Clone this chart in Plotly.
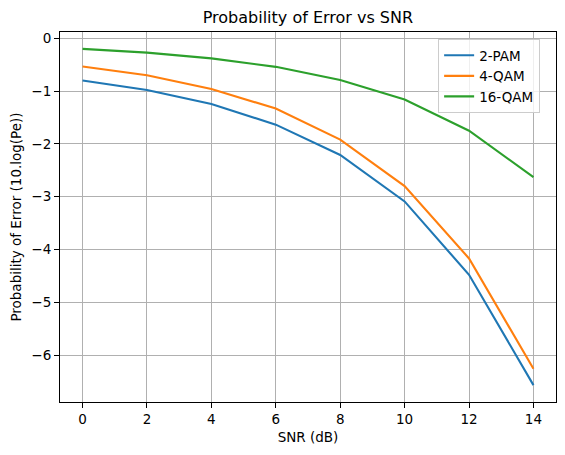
import plotly.graph_objects as go

# SNR values (dB) and error curves
snr_db = [0, 2, 4, 6, 8, 10, 12, 14]
pam2 = [-0.80, -0.98, -1.245, -1.635, -2.21, -3.09, -4.48, -6.57]
qam4 = [-0.535, -0.70, -0.96, -1.33, -1.92, -2.80, -4.17, -6.26]
qam16 = [-0.20, -0.27, -0.38, -0.54, -0.79, -1.16, -1.75, -2.63]

series = [("2-PAM", pam2, "#1f77b4"), ("4-QAM", qam4, "#ff7f0e"), ("16-QAM", qam16, "#2ca02c")]

fig = go.Figure()
for name, vals, color in series:
    fig.add_trace(go.Scatter(x=snr_db, y=vals, name=name, mode="lines",
                             line=dict(color=color, width=2.1)))

axis_style = dict(
    showline=True, linecolor="black", linewidth=1.1, mirror=True,
    showgrid=True, gridcolor="#b0b0b0", gridwidth=1.1,
    ticks="outside", ticklen=5, tickwidth=1.1, tickcolor="black",
    zeroline=False, automargin=False, tickfont=dict(size=13.5, color="black"),
)

fig.update_layout(
    width=565, height=455,
    margin=dict(l=60, r=9, t=32, b=53),
    paper_bgcolor="white", plot_bgcolor="white",
    font=dict(family="DejaVu Sans", color="black"),
    title=dict(text="Probability of Error vs SNR", x=0.545, xanchor="center",
               y=1 - 17 / 455, yanchor="middle", font=dict(size=16)),
    legend=dict(x=0.968, xanchor="right", y=0.981, yanchor="top",
                bgcolor="rgba(255,255,255,0.8)", bordercolor="#cccccc", borderwidth=1,
                font=dict(size=13.5)),
)
fig.update_xaxes(range=[-0.7, 14.7], tickvals=snr_db,
                 title=dict(text="SNR (dB)", font=dict(size=13.5), standoff=6), **axis_style)
fig.update_yaxes(range=[-6.89, 0.12], tickvals=[-6, -5, -4, -3, -2, -1, 0],
                 title=dict(text="Probability of Error (10.log(Pe))", font=dict(size=13.5), standoff=6),
                 **axis_style)

# drop the default page margin so the figure sits at the window corner
fig.write_html("out.html", config={"displayModeBar": False},
               post_script="document.body.style.margin='0';")
